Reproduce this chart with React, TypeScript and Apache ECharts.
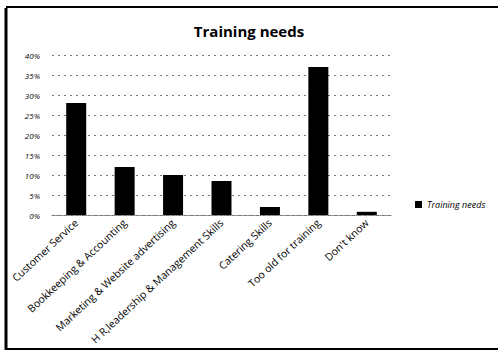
import React, { useEffect, useRef } from "react";
import * as echarts from "echarts";

const categories = [
  "Customer Service",
  "Bookkeeping & Accounting",
  "Marketing & Website advertising",
  "H R,leadership & Management Skills",
  "Catering Skills",
  "Too old for training",
  "Don't know",
];
const seriesName = "Training needs";
const values = [0.28, 0.12, 0.1, 0.085, 0.02, 0.37, 0.008];
const yTicks = { min: 0, max: 0.4, interval: 0.05 };

export default function App() {
  const ref = useRef<HTMLDivElement>(null);
  useEffect(() => {
    document.body.style.margin = "0";
    const chart = echarts.init(ref.current!, undefined, { renderer: "svg" });
    const font = "Open Sans";
    chart.setOption({
      animation: false,
      backgroundColor: "#ffffff",
      title: {
        text: "Training needs",
        left: "center",
        top: 18,
        textStyle: { fontFamily: font, fontWeight: "bold", fontSize: 15, color: "#000" },
      },
      legend: {
        data: [seriesName],
        left: 410,
        top: 195,
        icon: "rect",
        itemWidth: 7,
        itemHeight: 7,
        itemGap: 4,
        textStyle: { fontFamily: font, fontStyle: "italic", fontSize: 9, color: "#000" },
      },
      grid: { left: 52, right: 107, top: 55, bottom: 138 },
      xAxis: {
        type: "category",
        data: categories,
        axisLine: { show: true, lineStyle: { color: "#777", type: "dotted" } },
        axisTick: { show: false },
        axisLabel: {
          rotate: 43,
          interval: 0,
          fontFamily: font,
          fontSize: 10.5,
          color: "#000",
          margin: 6,
        },
      },
      yAxis: {
        type: "value",
        min: yTicks.min,
        max: yTicks.max,
        interval: yTicks.interval,
        axisLine: { show: false },
        axisTick: { show: false },
        axisLabel: {
          formatter: (v: number) => Math.round(v * 100) + "%",
          fontFamily: font,
          fontSize: 8,
          fontStyle: "italic",
          color: "#000",
          margin: 12,
        },
        splitLine: { show: true, lineStyle: { color: "#777", type: [2, 4], width: 1 } },
      },
      series: [
        {
          name: seriesName,
          type: "bar",
          data: values,
          barWidth: 20,
          itemStyle: { color: "#000" },
        },
      ],
      graphic: [
        { type: "line", shape: { x1: 6, y1: 8, x2: 6, y2: 350 }, style: { stroke: "#000", lineWidth: 3 } },
        { type: "line", shape: { x1: 6, y1: 349, x2: 498, y2: 349 }, style: { stroke: "#000", lineWidth: 2 } },
        { type: "line", shape: { x1: 6, y1: 7, x2: 498, y2: 7 }, style: { stroke: "#000", lineWidth: 2 } },
      ],
    });
    return () => chart.dispose();
  }, []);
  return <div ref={ref} style={{ width: 498, height: 353 }} />;
}
